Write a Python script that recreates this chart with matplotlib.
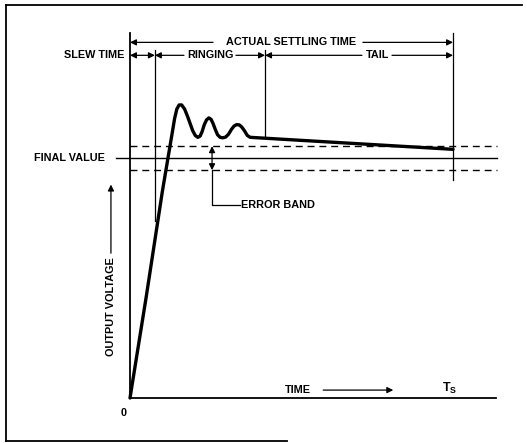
import numpy as np
import matplotlib.pyplot as plt
from matplotlib.lines import Line2D

plt.rcParams['font.family'] = ['Liberation Sans', 'DejaVu Sans']
plt.rcParams['mathtext.fontset'] = 'custom'
plt.rcParams['mathtext.bf'] = 'Liberation Sans:bold'

# output voltage response (time in arbitrary units, Ts = 10; final value = 1)
t_curve = [0.0, 0.50, 1.00, 1.30, 1.38, 1.45, 1.52, 1.60, 1.69, 1.78, 1.86,
           1.94, 2.02, 2.10, 2.17, 2.23, 2.30, 2.37, 2.44, 2.51, 2.57, 2.64,
           2.71, 2.79, 2.87, 2.96, 3.05, 3.14, 3.22, 3.30, 3.38, 3.46, 3.55,
           3.63, 3.72, 10.0]
v_curve = [0.0, 0.42, 0.86, 1.10, 1.165, 1.205, 1.222, 1.222, 1.205, 1.175, 1.145,
           1.115, 1.095, 1.087, 1.092, 1.110, 1.140, 1.160, 1.168, 1.162, 1.145, 1.120,
           1.098, 1.087, 1.085, 1.088, 1.100, 1.120, 1.134, 1.140, 1.139, 1.130, 1.113,
           1.095, 1.087, 1.037]

final_value = 1.0
error_band = 0.05
t_slew_end = 0.77
t_ring_end = 4.18
t_settle = 10.0
t_max = 11.33
v_max = 1.52

fig = plt.figure(figsize=(5.27, 4.43), dpi=100)
ax = fig.add_axes([130 / 527, 45 / 443, 366 / 527, 364.5 / 443])
ax.set_xlim(0, t_max)
ax.set_ylim(0, v_max)
ax.set_xticks([])
ax.set_yticks([])
for s in ['top', 'right']:
    ax.spines[s].set_visible(False)
for s in ['left', 'bottom']:
    ax.spines[s].set_linewidth(1.3)

ax.plot(t_curve, v_curve, color='k', lw=2.4, solid_joinstyle='round',
        solid_capstyle='round', clip_on=False)

# final value and error band
ax.plot([-0.43, 11.36], [final_value, final_value], color='k', lw=1.0, clip_on=False)
for v in [final_value + error_band, final_value - error_band]:
    ax.plot([0, 11.36], [v, v], color='k', lw=1.0, ls=(0, (5, 3.5)), clip_on=False)

# markers for slew end, ringing end, settling time
ax.plot([t_slew_end, t_slew_end], [0.74, 1.45], color='k', lw=0.9, clip_on=False)
ax.plot([t_ring_end, t_ring_end], [1.0875, 1.45], color='k', lw=0.9, clip_on=False)
ax.plot([t_settle, t_settle], [0.91, v_max], color='k', lw=0.9, clip_on=False)

tf = dict(fontsize=7.8, fontweight='bold', va='center', color='k')


def arrow(x0, y0, x1, y1, style='-|>'):
    ax.annotate('', xy=(x1, y1), xytext=(x0, y0), annotation_clip=False,
                arrowprops=dict(arrowstyle=style, color='k', lw=0.9,
                                mutation_scale=9, shrinkA=0, shrinkB=0))


row1 = 1.483
row2 = 1.429
arrow(2.57, row1, 0, row1)
arrow(7.21, row1, t_settle, row1)
ax.text(4.98, row1, 'ACTUAL SETTLING TIME', ha='center', **tf)

ax.text(-0.16, row2, 'SLEW TIME', ha='right', **tf)
arrow(0, row2, t_slew_end, row2, '<|-|>')
arrow(1.67, row2, t_slew_end, row2)
arrow(3.28, row2, t_ring_end, row2)
ax.text(2.48, row2, 'RINGING', ha='center', **tf)
arrow(7.18, row2, t_ring_end, row2)
arrow(8.11, row2, t_settle, row2)
ax.text(7.65, row2, 'TAIL', ha='center', **tf)

ax.text(-1.86, final_value, 'FINAL VALUE', ha='center', **tf)

# error band callout
arrow(2.54, final_value - error_band, 2.54, final_value + error_band, '<|-|>')
ax.plot([2.54, 2.54, 3.41], [final_value - error_band, 0.804, 0.804], color='k', lw=0.9,
        clip_on=False)
ax.text(3.43, 0.804, 'ERROR BAND', ha='left', **tf)

# axis labels
ax.text(-0.59, 0.383, 'OUTPUT VOLTAGE', ha='center', rotation=90, **tf)
arrow(-0.59, 0.604, -0.59, 0.89)
ax.text(5.2, 0.033, 'TIME', ha='center', **tf)
arrow(5.98, 0.033, 8.15, 0.033)
ax.text(9.88, 0.04, r'$\mathbf{T_S}$', ha='center', fontsize=9, va='center')
ax.text(-0.19, -0.063, '0', ha='center', **tf)

# scanned page border
fig.add_artist(Line2D([6 / 527, 6 / 527], [1 - 5 / 443, 1 - 441 / 443], color='k', lw=1.3))
fig.add_artist(Line2D([6 / 527, 522 / 527], [1 - 5 / 443, 1 - 5 / 443], color='k', lw=1.3))
fig.add_artist(Line2D([6 / 527, 287 / 527], [1 - 441 / 443, 1 - 441 / 443], color='k', lw=1.3))

fig.savefig('out.png', dpi=100)
